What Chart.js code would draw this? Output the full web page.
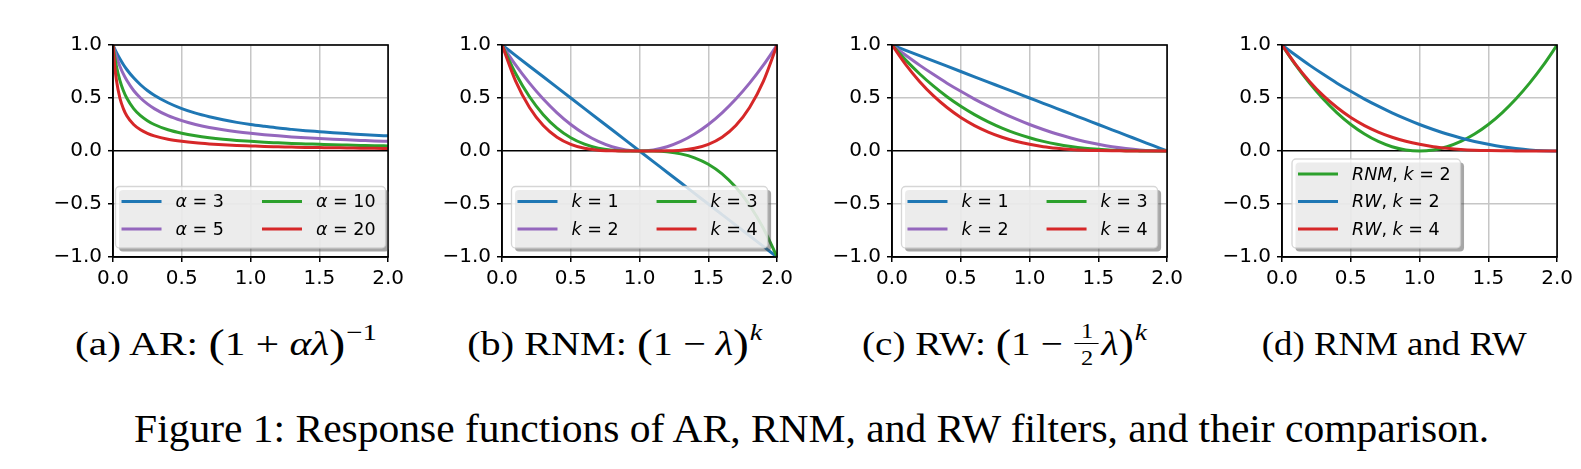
<!DOCTYPE html>
<html>
<head>
<meta charset="utf-8">
<script src="https://cdn.jsdelivr.net/npm/chart.js@4.4.1/dist/chart.umd.min.js"></script>
<style>
  html, body { margin: 0; padding: 0; background: #fff; }
  body { width: 1581px; height: 469px; position: relative; overflow: hidden; }
  canvas.panel { position: absolute; top: 27px; }
  .cap { position: absolute; top: 0; left: 0; font-family: "Liberation Serif", "Times New Roman", serif;
         color: #000; white-space: nowrap; line-height: 1; transform-origin: center top; }
  .sub { font-size: 34px; }
  .fig { font-size: 39px; }
  .cap i { font-style: italic; }
  .paren { font-size: 1.18em; line-height: 0; position: relative; top: 0.04em; }
  .sup { font-size: 0.7em; line-height: 0; position: relative; top: -0.62em; margin-left: 0.03em; }
  .frac { display: inline-block; position: relative; width: 0.62em; height: 1px; margin: 0 0.06em; }
  .frac .num, .frac .den { position: absolute; left: 0; width: 100%; text-align: center; font-size: 0.62em; line-height: 1; }
  .frac .num { top: -1.55em; }
  .frac .den { top: -0.3em; }
  .frac .bar { position: absolute; left: 0; width: 100%; top: -0.33em; border-top: 1.3px solid #000; }
  .bl { display: inline-block; width: 0; height: 0; }
</style>
</head>
<body>
<canvas class="panel" id="chartAR" width="371" height="270" style="left:38px"></canvas>
<canvas class="panel" id="chartRNM" width="371" height="270" style="left:427px"></canvas>
<canvas class="panel" id="chartRW" width="371" height="270" style="left:817px"></canvas>
<canvas class="panel" id="chartCmp" width="371" height="270" style="left:1207px"></canvas>

<div class="cap sub" data-cx="226" data-w="302" data-base="355">(a) AR: <span class="paren">(</span>1 + <i>αλ</i><span class="paren">)</span><span class="sup">−1</span></div>
<div class="cap sub" data-cx="615" data-w="295" data-base="355">(b) RNM: <span class="paren">(</span>1 − <i>λ</i><span class="paren">)</span><span class="sup"><i>k</i></span></div>
<div class="cap sub" data-cx="1004" data-w="285" data-base="355">(c) RW: <span class="paren">(</span>1 − <span class="frac"><span class="num">1</span><span class="bar"></span><span class="den">2</span></span><i>λ</i><span class="paren">)</span><span class="sup"><i>k</i></span></div>
<div class="cap sub" data-cx="1394" data-w="265" data-base="355">(d) RNM and RW</div>
<div class="cap fig" data-cx="812" data-w="1355" data-base="442">Figure 1: Response functions of AR, RNM, and RW filters, and their comparison.</div>

<script>
// sample points (lambda) and curve values
const lambdaAR = [0, 0.0125, 0.025, 0.05, 0.075, 0.1, 0.15, 0.2, 0.25, 0.3, 0.4, 0.5, 0.6, 0.7, 0.8, 0.9,
                  1.0, 1.1, 1.2, 1.3, 1.4, 1.5, 1.6, 1.7, 1.8, 1.9, 2.0];
const ar3  = [1, 0.964, 0.930, 0.870, 0.816, 0.769, 0.690, 0.625, 0.571, 0.526, 0.455, 0.400, 0.357, 0.323, 0.294, 0.270,
              0.250, 0.233, 0.217, 0.204, 0.192, 0.182, 0.172, 0.164, 0.156, 0.149, 0.143];
const ar5  = [1, 0.941, 0.889, 0.800, 0.727, 0.667, 0.571, 0.500, 0.444, 0.400, 0.333, 0.286, 0.250, 0.222, 0.200, 0.182,
              0.167, 0.154, 0.143, 0.133, 0.125, 0.118, 0.111, 0.105, 0.100, 0.095, 0.091];
const ar10 = [1, 0.889, 0.800, 0.667, 0.571, 0.500, 0.400, 0.333, 0.286, 0.250, 0.200, 0.167, 0.143, 0.125, 0.111, 0.100,
              0.091, 0.083, 0.077, 0.071, 0.067, 0.063, 0.059, 0.056, 0.053, 0.050, 0.048];
const ar20 = [1, 0.800, 0.667, 0.500, 0.400, 0.333, 0.250, 0.200, 0.167, 0.143, 0.111, 0.091, 0.077, 0.067, 0.059, 0.053,
              0.048, 0.043, 0.040, 0.037, 0.034, 0.032, 0.030, 0.029, 0.027, 0.026, 0.024];

const lambdaGrid = [0, 0.1, 0.2, 0.3, 0.4, 0.5, 0.6, 0.7, 0.8, 0.9, 1.0, 1.1, 1.2, 1.3, 1.4, 1.5, 1.6, 1.7, 1.8, 1.9, 2.0];
const rnm1 = [1, 0.9, 0.8, 0.7, 0.6, 0.5, 0.4, 0.3, 0.2, 0.1, 0, -0.1, -0.2, -0.3, -0.4, -0.5, -0.6, -0.7, -0.8, -0.9, -1];
const rnm2 = [1, 0.81, 0.64, 0.49, 0.36, 0.25, 0.16, 0.09, 0.04, 0.01, 0, 0.01, 0.04, 0.09, 0.16, 0.25, 0.36, 0.49, 0.64, 0.81, 1];
const rnm3 = [1, 0.729, 0.512, 0.343, 0.216, 0.125, 0.064, 0.027, 0.008, 0.001, 0, -0.001, -0.008, -0.027, -0.064, -0.125,
              -0.216, -0.343, -0.512, -0.729, -1];
const rnm4 = [1, 0.656, 0.410, 0.240, 0.130, 0.063, 0.026, 0.008, 0.002, 0, 0, 0, 0.002, 0.008, 0.026, 0.063,
              0.130, 0.240, 0.410, 0.656, 1];
const rw1 = [1, 0.95, 0.9, 0.85, 0.8, 0.75, 0.7, 0.65, 0.6, 0.55, 0.5, 0.45, 0.4, 0.35, 0.3, 0.25, 0.2, 0.15, 0.1, 0.05, 0];
const rw2 = [1, 0.903, 0.81, 0.723, 0.64, 0.563, 0.49, 0.423, 0.36, 0.303, 0.25, 0.203, 0.16, 0.123, 0.09, 0.063,
             0.04, 0.023, 0.01, 0.003, 0];
const rw3 = [1, 0.857, 0.729, 0.614, 0.512, 0.422, 0.343, 0.275, 0.216, 0.166, 0.125, 0.091, 0.064, 0.043, 0.027, 0.016,
             0.008, 0.003, 0.001, 0, 0];
const rw4 = [1, 0.815, 0.656, 0.522, 0.410, 0.316, 0.240, 0.179, 0.130, 0.092, 0.063, 0.041, 0.026, 0.015, 0.008, 0.004,
             0.002, 0.001, 0, 0, 0];

const alphaLabels = ['α = 3', 'α = 5', 'α = 10', 'α = 20'];
const kLabels = ['k = 1', 'k = 2', 'k = 3', 'k = 4'];
const cmpLabels = ['RNM, k = 2', 'RW, k = 2', 'RW, k = 4'];
const xTicks = [0, 0.5, 1.0, 1.5, 2.0];
const yTicks = [-1, -0.5, 0, 0.5, 1];

const BLUE = '#1f77b4', GREEN = '#2ca02c', RED = '#d62728', PURPLE = '#9467bd';
const GRID = '#c6c6c6';
const tickFont = { family: '"DejaVu Sans"', size: 20 };
const legendFont = '17.5px "DejaVu Sans"';
const legendFontIt = 'italic 17.5px "DejaVu Sans"';

// split a label into italic (letters) and upright (digits, symbols) runs, like mathtext
function mathRuns(label) {
    const runs = [];
    for (const ch of label) {
        const it = /[A-Za-z\u03b1-\u03c9]/.test(ch);
        const last = runs[runs.length - 1];
        if (last && last.it === it) last.t += ch;
        else runs.push({ t: ch, it });
    }
    return runs;
}

function labelWidth(ctx, label) {
    let w = 0;
    mathRuns(label).forEach(r => {
        ctx.font = r.it ? legendFontIt : legendFont;
        w += ctx.measureText(r.t).width;
    });
    return w;
}

function drawLabel(ctx, label, x, y) {
    mathRuns(label).forEach(r => {
        ctx.font = r.it ? legendFontIt : legendFont;
        ctx.fillText(r.t, x, y);
        x += ctx.measureText(r.t).width;
    });
}

function roundRect(ctx, x, y, w, h, r) {
    ctx.beginPath();
    ctx.moveTo(x + r, y);
    ctx.arcTo(x + w, y, x + w, y + h, r);
    ctx.arcTo(x + w, y + h, x, y + h, r);
    ctx.arcTo(x, y + h, x, y, r);
    ctx.arcTo(x, y, x + w, y, r);
    ctx.closePath();
}

// black frame on all four sides, then the boxed legend inside the axes
const frameAndLegend = {
    id: 'frameAndLegend',
    afterDatasetsDraw(chart, args, opts) {
        const ctx = chart.ctx;
        const area = chart.chartArea;
        ctx.save();
        ctx.strokeStyle = '#000';
        ctx.lineWidth = 1.6;
        ctx.strokeRect(area.left, area.top, area.right - area.left, area.bottom - area.top);

        const items = chart.data.datasets.map(d => ({ label: d.label, color: d.borderColor }));
        const ncol = opts.ncol || 1;
        const rows = Math.ceil(items.length / ncol);
        const padL = 6, lineLen = 40, gap = 14, padR = 10, colSpace = 38;
        const padT = 15, rowH = 27.5, padB = 19;
        const colW = [];
        for (let c = 0; c < ncol; c++) {
            let m = 0;
            for (let r = 0; r < rows; r++) {
                const it = items[c * rows + r];
                if (it) m = Math.max(m, labelWidth(ctx, it.label));
            }
            colW.push(lineLen + gap + m);
        }
        const boxW = padL + colW.reduce((a, b) => a + b, 0) + colSpace * (ncol - 1) + padR;
        const boxH = padT + rowH * (rows - 1) + padB;
        const x0 = opts.loc === 'lower left' ? area.left + 10 : (area.left + area.right) / 2 - boxW / 2;
        const y0 = area.bottom - 9 - boxH;

        roundRect(ctx, x0 + 3.5, y0 + 3.5, boxW, boxH, 4);
        ctx.fillStyle = 'rgba(77,77,77,0.5)';
        ctx.fill();
        roundRect(ctx, x0, y0, boxW, boxH, 4);
        ctx.fillStyle = 'rgba(255,255,255,0.8)';
        ctx.fill();
        ctx.strokeStyle = 'rgba(204,204,204,0.8)';
        ctx.lineWidth = 1.3;
        ctx.stroke();

        ctx.textBaseline = 'middle';
        ctx.textAlign = 'left';
        ctx.fillStyle = '#000';
        let cx = x0 + padL;
        for (let c = 0; c < ncol; c++) {
            for (let r = 0; r < rows; r++) {
                const it = items[c * rows + r];
                if (!it) continue;
                const y = y0 + padT + r * rowH;
                ctx.strokeStyle = it.color;
                ctx.lineWidth = 3;
                ctx.beginPath();
                ctx.moveTo(cx, y);
                ctx.lineTo(cx + lineLen, y);
                ctx.stroke();
                ctx.fillStyle = '#000';
                drawLabel(ctx, it.label, cx + lineLen + gap, y + 1);
            }
            cx += colW[c] + colSpace;
        }
        ctx.restore();
    }
};

function fmtTick(v) {
    return (v < 0 ? '\u2212' : '') + Math.abs(v).toFixed(1);
}

function makeChart(id, xs, series, labels, colors, loc, ncol) {
    const datasets = series.map((vals, i) => ({
        label: labels[i],
        data: xs.map((x, j) => ({ x: x, y: vals[j] })),
        borderColor: colors[i],
        borderWidth: 3,
        pointRadius: 0,
        fill: false,
        cubicInterpolationMode: 'monotone',
        order: -i
    }));
    return new Chart(document.getElementById(id), {
        type: 'line',
        data: { datasets },
        plugins: [frameAndLegend],
        options: {
            responsive: false,
            animation: false,
            layout: { padding: { left: 0, top: 14, right: 20, bottom: 0 } },
            plugins: {
                legend: { display: false },
                tooltip: { enabled: false },
                frameAndLegend: { loc, ncol }
            },
            scales: {
                x: {
                    type: 'linear', min: 0, max: 2,
                    afterFit: s => { s.height = 40; },
                    afterBuildTicks: s => { s.ticks = xTicks.map(v => ({ value: v })); },
                    ticks: { callback: fmtTick, font: tickFont, color: '#000', padding: 5, maxRotation: 0, autoSkip: false },
                    grid: { color: GRID, lineWidth: 1.5, tickLength: 5, tickColor: '#000', tickWidth: 1.5 },
                    border: { color: '#000', width: 1.6 }
                },
                y: {
                    type: 'linear', min: -1, max: 1,
                    afterFit: s => { s.width = 75; },
                    afterBuildTicks: s => { s.ticks = yTicks.map(v => ({ value: v })); },
                    ticks: { callback: fmtTick, font: tickFont, color: '#000', padding: 6, autoSkip: false },
                    grid: {
                        color: c => (c.tick && c.tick.value === 0 ? '#000' : GRID),
                        lineWidth: c => (c.tick && c.tick.value === 0 ? 1.4 : 1.5),
                        tickLength: 5, tickColor: '#000', tickWidth: 1.5
                    },
                    border: { color: '#000', width: 1.6 }
                }
            }
        }
    });
}

makeChart('chartAR', lambdaAR, [ar3, ar5, ar10, ar20], alphaLabels, [BLUE, PURPLE, GREEN, RED], 'lower center', 2);
makeChart('chartRNM', lambdaGrid, [rnm1, rnm2, rnm3, rnm4], kLabels, [BLUE, PURPLE, GREEN, RED], 'lower center', 2);
makeChart('chartRW', lambdaGrid, [rw1, rw2, rw3, rw4], kLabels, [BLUE, PURPLE, GREEN, RED], 'lower center', 2);
makeChart('chartCmp', lambdaGrid, [rnm2, rw2, rw4], cmpLabels, [GREEN, BLUE, RED], 'lower left', 1);

// place captions: centre, width and baseline as in the figure
document.querySelectorAll('.cap').forEach(el => {
    const bl = document.createElement('span');
    bl.className = 'bl';
    el.appendChild(bl);
    const w = el.getBoundingClientRect().width;
    const base = bl.getBoundingClientRect().top - el.getBoundingClientRect().top;
    const sx = Number(el.dataset.w) / w;
    el.style.left = (Number(el.dataset.cx) - w / 2) + 'px';
    el.style.top = (Number(el.dataset.base) - base) + 'px';
    el.style.transform = 'scaleX(' + sx.toFixed(4) + ')';
});
</script>
</body>
</html>
